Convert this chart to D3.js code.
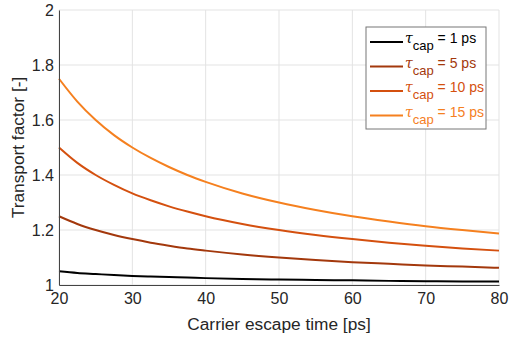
<!DOCTYPE html>
<html>
<head>
<meta charset="utf-8">
<script src="https://cdn.jsdelivr.net/npm/d3@7"></script>
<style>
  body { margin: 0; background: #fff; }
  svg { font-family: "Liberation Sans", Arial, sans-serif; }
</style>
</head>
<body>
<script>
// carrier escape time [ps]
const escapeTimes = [20, 22.5, 25, 27.5, 30, 32.5, 35, 37.5, 40, 45, 50, 55, 60, 65, 70, 75, 80];
// transport factor
const tauCap1 = [1.05, 1.044, 1.04, 1.036, 1.033, 1.031, 1.029, 1.027, 1.025, 1.022, 1.02, 1.018, 1.017, 1.015, 1.014, 1.013, 1.0125];
const tauCap5 = [1.25, 1.222, 1.2, 1.182, 1.167, 1.154, 1.143, 1.133, 1.125, 1.111, 1.1, 1.091, 1.083, 1.077, 1.071, 1.067, 1.0625];
const tauCap10 = [1.5, 1.444, 1.4, 1.364, 1.333, 1.308, 1.286, 1.267, 1.25, 1.222, 1.2, 1.182, 1.167, 1.154, 1.143, 1.133, 1.125];
const tauCap15 = [1.75, 1.667, 1.6, 1.545, 1.5, 1.462, 1.429, 1.4, 1.375, 1.333, 1.3, 1.273, 1.25, 1.231, 1.214, 1.2, 1.1875];
const seriesLabels = ['1 ps', '5 ps', '10 ps', '15 ps'];
const xTicks = [20, 30, 40, 50, 60, 70, 80];
const yTicks = [1, 1.2, 1.4, 1.6, 1.8, 2];

const colors = ['#000000', '#a3380c', '#d4500f', '#f5801f'];
const series = [tauCap1, tauCap5, tauCap10, tauCap15];

const W = 509, H = 341;
const margin = { top: 10, right: 10, bottom: 56, left: 59 };
const width = W - margin.left - margin.right;
const height = H - margin.top - margin.bottom;

const svg = d3.select('body').append('svg')
  .attr('width', W)
  .attr('height', H);

const g = svg.append('g').attr('transform', 'translate(' + margin.left + ',' + margin.top + ')');

const x = d3.scaleLinear().domain([20, 80]).range([0, width]);
const y = d3.scaleLinear().domain([1, 2]).range([height, 0]);

// grid
g.append('g').selectAll('line').data(xTicks).join('line')
  .attr('x1', d => x(d)).attr('x2', d => x(d))
  .attr('y1', 0).attr('y2', height)
  .attr('stroke', '#e3e3e3').attr('stroke-width', 1);
g.append('g').selectAll('line').data(yTicks).join('line')
  .attr('x1', 0).attr('x2', width)
  .attr('y1', d => y(d)).attr('y2', d => y(d))
  .attr('stroke', '#e3e3e3').attr('stroke-width', 1);

// curves
const line = d3.line()
  .x((d, i) => x(escapeTimes[i]))
  .y(d => y(d))
  .curve(d3.curveMonotoneX);

series.forEach((s, i) => {
  g.append('path')
    .datum(s)
    .attr('fill', 'none')
    .attr('stroke', colors[i])
    .attr('stroke-width', 2)
    .attr('d', line);
});

// axes
const xAxis = g.append('g').attr('transform', 'translate(0,' + height + ')')
  .call(d3.axisBottom(x).tickValues(xTicks).tickSize(0).tickPadding(8).tickFormat(d3.format('d')));
const yAxis = g.append('g')
  .call(d3.axisLeft(y).tickValues(yTicks).tickSize(0).tickPadding(5).tickFormat(d => d3.format('~g')(d)));
[xAxis, yAxis].forEach(a => {
  a.select('.domain').attr('stroke', '#444').attr('stroke-width', 1);
  a.selectAll('text').attr('fill', '#262626').style('font-size', '16px').style('font-family', '"Liberation Sans", Arial, sans-serif');
});

// axis titles
svg.append('text')
  .attr('x', margin.left + width / 2).attr('y', 330)
  .attr('text-anchor', 'middle')
  .attr('fill', '#262626')
  .style('font-size', '17.3px')
  .text('Carrier escape time [ps]');
svg.append('text')
  .attr('transform', 'translate(24,' + (margin.top + height / 2) + ') rotate(-90)')
  .attr('text-anchor', 'middle')
  .attr('fill', '#262626')
  .style('font-size', '17.3px')
  .text('Transport factor [-]');

// legend
const lg = svg.append('g').attr('transform', 'translate(366,27)');
lg.append('rect')
  .attr('width', 120).attr('height', 102)
  .attr('fill', '#fff').attr('stroke', '#777').attr('stroke-width', 1);
seriesLabels.forEach((lab, i) => {
  const yy = 15 + i * 24.5;
  lg.append('line')
    .attr('x1', 4).attr('x2', 37).attr('y1', yy).attr('y2', yy)
    .attr('stroke', colors[i]).attr('stroke-width', 2);
  const t = lg.append('text')
    .attr('x', 39).attr('y', yy + 1)
    .attr('fill', colors[i])
    .style('font-size', '14px');
  t.append('tspan').text('\u03c4').style('font-style', 'italic').style('font-family', '"DejaVu Serif", serif');
  t.append('tspan').text('cap').attr('dy', 7).style('font-size', '13px');
  t.append('tspan').text(' = ' + lab).attr('dy', -7);
});
</script>
</body>
</html>
